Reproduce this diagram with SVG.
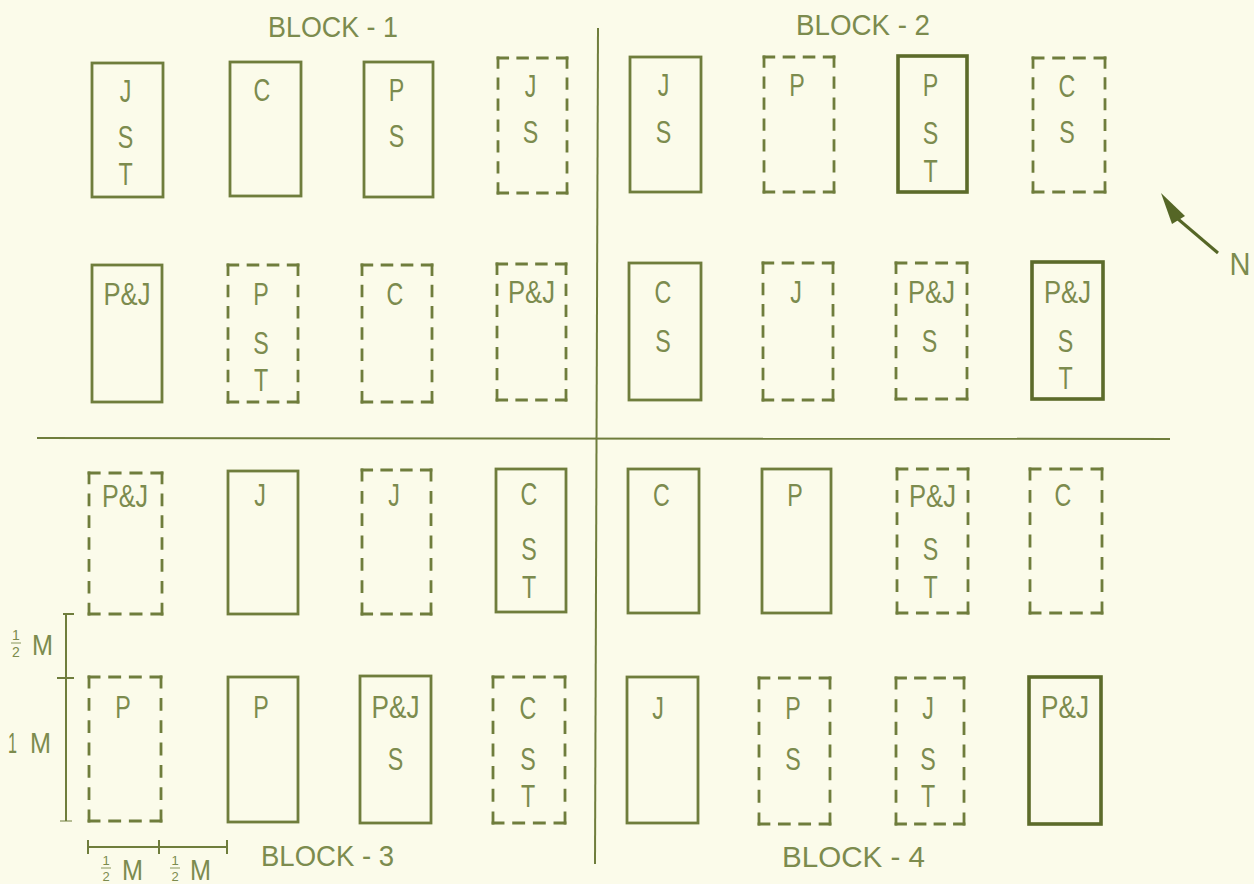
<svg xmlns="http://www.w3.org/2000/svg" width="1254" height="884" viewBox="0 0 1254 884">
<style>
.bg{fill:#fbfbea}
.solid{fill:none;stroke:#6f7d3c;stroke-width:2.8}
.thick{fill:none;stroke:#5c6b2a;stroke-width:3.6}
.dh{fill:none;stroke:#6f7d3c;stroke-width:2.8;stroke-linecap:square;stroke-dasharray:14 14.67}
.dv{fill:none;stroke:#6f7d3c;stroke-width:2.8;stroke-linecap:square;stroke-dasharray:7 8.5}
.rule{fill:none;stroke:#6f7d3c;stroke-width:2}
text{font-family:"Liberation Sans",Arial,sans-serif;fill:#7c8b4e;text-anchor:middle}
.l{font-size:31px;transform-box:fill-box;transform-origin:center;transform:scaleX(0.75)}
.pj{font-size:31px}
.blk{font-size:29px;text-anchor:start}
.sm{font-size:14px}
.sb{font-size:13px}
.m{font-size:30px;text-anchor:start}
</style>
<rect class="bg" x="0" y="0" width="1254" height="884"/>

<g id="connectors">
<line class="rule" x1="598" y1="28" x2="595" y2="864"/>
<line class="rule" x1="37" y1="438" x2="1170" y2="439"/>
</g>

<g id="labels">
<text class="blk" x="268" y="37" textLength="130" lengthAdjust="spacingAndGlyphs">BLOCK - 1</text>
<text class="blk" x="796" y="35" textLength="134" lengthAdjust="spacingAndGlyphs">BLOCK - 2</text>
<text class="blk" x="261" y="866" textLength="133" lengthAdjust="spacingAndGlyphs">BLOCK - 3</text>
<text class="blk" x="782" y="867" textLength="143" lengthAdjust="spacingAndGlyphs">BLOCK - 4</text>
</g>

<g id="north">
<polygon points="1161,193 1172,224 1185,216" fill="#556626"/>
<line x1="1178" y1="219" x2="1218" y2="253" stroke="#556626" stroke-width="3"/>
<text x="1240" y="275" style="font-size:31px" textLength="21" lengthAdjust="spacingAndGlyphs">N</text>
</g>

<g id="scale">
<line class="rule" x1="66" y1="614" x2="66" y2="821"/>
<line class="rule" x1="63" y1="614" x2="74" y2="614"/>
<line class="rule" x1="57" y1="678" x2="74" y2="678"/>
<line class="rule" x1="60" y1="821" x2="72" y2="821" stroke-opacity="0.5"/>
<line class="rule" x1="88" y1="847" x2="227" y2="847"/>
<line class="rule" x1="88" y1="840" x2="88" y2="854"/>
<line class="rule" x1="159" y1="840" x2="159" y2="854"/>
<line class="rule" x1="227" y1="840" x2="227" y2="854"/>
<text class="sm" x="16" y="640">1</text><line x1="11" y1="643" x2="21" y2="643" stroke="#7c8b4e" stroke-width="0.9"/><text class="sm" x="16" y="657">2</text>
<text class="m" x="32" y="655" textLength="21" lengthAdjust="spacingAndGlyphs">M</text>
<text class="m" x="8" y="753" textLength="9" lengthAdjust="spacingAndGlyphs">1</text>
<text class="m" x="30" y="753" textLength="21" lengthAdjust="spacingAndGlyphs">M</text>
<text class="sb" x="106" y="865">1</text><line x1="101" y1="868" x2="111" y2="868" stroke="#7c8b4e" stroke-width="0.9"/><text class="sb" x="106" y="881">2</text>
<text class="m" x="122" y="880" textLength="21" lengthAdjust="spacingAndGlyphs">M</text>
<text class="sb" x="175" y="865">1</text><line x1="170" y1="868" x2="180" y2="868" stroke="#7c8b4e" stroke-width="0.9"/><text class="sb" x="175" y="881">2</text>
<text class="m" x="190" y="880" textLength="21" lengthAdjust="spacingAndGlyphs">M</text>
</g>

<!-- BLOCK 1 row 1 -->
<g id="b1-r1-c1"><rect class="solid" x="92" y="63" width="71" height="134"/>
<text class="l" x="125.5" y="102">J</text><text class="l" x="125.5" y="148">S</text><text class="l" x="125.5" y="185">T</text></g>
<g id="b1-r1-c2"><rect class="solid" x="230" y="62" width="71" height="134"/>
<text class="l" x="262" y="101">C</text></g>
<g id="b1-r1-c3"><rect class="solid" x="364" y="62" width="69" height="135"/>
<text class="l" x="396.5" y="101">P</text><text class="l" x="396.5" y="147">S</text></g>
<g id="b1-r1-c4"><path class="dh" pathLength="200" d="M498 58H567M498 193H567"/><path class="dv" pathLength="200" d="M498 58V193M567 58V193"/>
<text class="l" x="530.5" y="97">J</text><text class="l" x="530.5" y="143">S</text></g>

<!-- BLOCK 1 row 2 -->
<g id="b1-r2-c1"><rect class="solid" x="92" y="265" width="70" height="137"/>
<text class="pj" x="127" y="305" textLength="47" lengthAdjust="spacingAndGlyphs">P&amp;J</text></g>
<g id="b1-r2-c2"><path class="dh" pathLength="200" d="M228 265H298M228 402H298"/><path class="dv" pathLength="200" d="M228 265V402M298 265V402"/>
<text class="l" x="261" y="305">P</text><text class="l" x="261" y="354">S</text><text class="l" x="261" y="391">T</text></g>
<g id="b1-r2-c3"><path class="dh" pathLength="200" d="M362 265H432M362 402H432"/><path class="dv" pathLength="200" d="M362 265V402M432 265V402"/>
<text class="l" x="395" y="305">C</text></g>
<g id="b1-r2-c4"><path class="dh" pathLength="200" d="M497 264H566M497 400H566"/><path class="dv" pathLength="200" d="M497 264V400M566 264V400"/>
<text class="pj" x="531.5" y="303" textLength="47" lengthAdjust="spacingAndGlyphs">P&amp;J</text></g>

<!-- BLOCK 2 row 1 -->
<g id="b2-r1-c1"><rect class="solid" x="630" y="57" width="71" height="135"/>
<text class="l" x="663.5" y="96">J</text><text class="l" x="663.5" y="143">S</text></g>
<g id="b2-r1-c2"><path class="dh" pathLength="200" d="M764 57H834M764 192H834"/><path class="dv" pathLength="200" d="M764 57V192M834 57V192"/>
<text class="l" x="797" y="96">P</text></g>
<g id="b2-r1-c3"><rect class="thick" x="898" y="56" width="69" height="136"/>
<text class="l" x="930.5" y="96">P</text><text class="l" x="930.5" y="144">S</text><text class="l" x="930.5" y="182">T</text></g>
<g id="b2-r1-c4"><path class="dh" pathLength="200" d="M1033 58H1105M1033 192H1105"/><path class="dv" pathLength="200" d="M1033 58V192M1105 58V192"/>
<text class="l" x="1067" y="97">C</text><text class="l" x="1067" y="143">S</text></g>

<!-- BLOCK 2 row 2 -->
<g id="b2-r2-c1"><rect class="solid" x="629" y="263" width="72" height="137"/>
<text class="l" x="663" y="303">C</text><text class="l" x="663" y="352">S</text></g>
<g id="b2-r2-c2"><path class="dh" pathLength="200" d="M763 263H833M763 400H833"/><path class="dv" pathLength="200" d="M763 263V400M833 263V400"/>
<text class="l" x="796" y="303">J</text></g>
<g id="b2-r2-c3"><path class="dh" pathLength="200" d="M896 263H967M896 399H967"/><path class="dv" pathLength="200" d="M896 263V399M967 263V399"/>
<text class="pj" x="931.5" y="303" textLength="47" lengthAdjust="spacingAndGlyphs">P&amp;J</text><text class="l" x="929.5" y="352">S</text></g>
<g id="b2-r2-c4"><rect class="thick" x="1032" y="262" width="71" height="137"/>
<text class="pj" x="1067.5" y="303" textLength="47" lengthAdjust="spacingAndGlyphs">P&amp;J</text><text class="l" x="1065.5" y="352">S</text><text class="l" x="1065.5" y="389">T</text></g>

<!-- BLOCK 3 row 1 -->
<g id="b3-r1-c1"><path class="dh" pathLength="200" d="M89 473H162M89 614H162"/><path class="dv" pathLength="200" d="M89 473V614M162 473V614"/>
<text class="pj" x="125" y="507" textLength="46" lengthAdjust="spacingAndGlyphs">P&amp;J</text></g>
<g id="b3-r1-c2"><rect class="solid" x="228" y="471" width="70" height="143"/>
<text class="l" x="260" y="506">J</text></g>
<g id="b3-r1-c3"><path class="dh" pathLength="200" d="M362 470H431M362 614H431"/><path class="dv" pathLength="200" d="M362 470V614M431 470V614"/>
<text class="l" x="394" y="506">J</text></g>
<g id="b3-r1-c4"><rect class="solid" x="496" y="469" width="70" height="143"/>
<text class="l" x="529" y="505">C</text><text class="l" x="529" y="560">S</text><text class="l" x="529" y="598">T</text></g>

<!-- BLOCK 3 row 2 -->
<g id="b3-r2-c1"><path class="dh" pathLength="200" d="M89 677H161M89 821H161"/><path class="dv" pathLength="200" d="M89 677V821M161 677V821"/>
<text class="l" x="123" y="718">P</text></g>
<g id="b3-r2-c2"><rect class="solid" x="228" y="677" width="70" height="145"/>
<text class="l" x="261" y="718">P</text></g>
<g id="b3-r2-c3"><rect class="solid" x="360" y="676" width="71" height="147"/>
<text class="pj" x="395.5" y="718" textLength="48" lengthAdjust="spacingAndGlyphs">P&amp;J</text><text class="l" x="395.5" y="770">S</text></g>
<g id="b3-r2-c4"><path class="dh" pathLength="200" d="M493 677H565M493 823H565"/><path class="dv" pathLength="200" d="M493 677V823M565 677V823"/>
<text class="l" x="528" y="719">C</text><text class="l" x="528" y="770">S</text><text class="l" x="528" y="807">T</text></g>

<!-- BLOCK 4 row 1 -->
<g id="b4-r1-c1"><rect class="solid" x="628" y="469" width="71" height="144"/>
<text class="l" x="661.5" y="506">C</text></g>
<g id="b4-r1-c2"><rect class="solid" x="762" y="469" width="69" height="144"/>
<text class="l" x="795" y="506">P</text></g>
<g id="b4-r1-c3"><path class="dh" pathLength="200" d="M897 469H968M897 613H968"/><path class="dv" pathLength="200" d="M897 469V613M968 469V613"/>
<text class="pj" x="932.5" y="507" textLength="47" lengthAdjust="spacingAndGlyphs">P&amp;J</text><text class="l" x="930.5" y="560">S</text><text class="l" x="930.5" y="598">T</text></g>
<g id="b4-r1-c4"><path class="dh" pathLength="200" d="M1030 469H1102M1030 613H1102"/><path class="dv" pathLength="200" d="M1030 469V613M1102 469V613"/>
<text class="l" x="1063" y="506">C</text></g>

<!-- BLOCK 4 row 2 -->
<g id="b4-r2-c1"><rect class="solid" x="627" y="677" width="71" height="146"/>
<text class="l" x="658" y="719">J</text></g>
<g id="b4-r2-c2"><path class="dh" pathLength="200" d="M759 678H830M759 824H830"/><path class="dv" pathLength="200" d="M759 678V824M830 678V824"/>
<text class="l" x="793" y="719">P</text><text class="l" x="793" y="770">S</text></g>
<g id="b4-r2-c3"><path class="dh" pathLength="200" d="M896 678H964M896 824H964"/><path class="dv" pathLength="200" d="M896 678V824M964 678V824"/>
<text class="l" x="928" y="719">J</text><text class="l" x="928" y="770">S</text><text class="l" x="928" y="807">T</text></g>
<g id="b4-r2-c4"><rect class="thick" x="1029" y="677" width="72" height="147"/>
<text class="pj" x="1065" y="718" textLength="48" lengthAdjust="spacingAndGlyphs">P&amp;J</text></g>
</svg>
